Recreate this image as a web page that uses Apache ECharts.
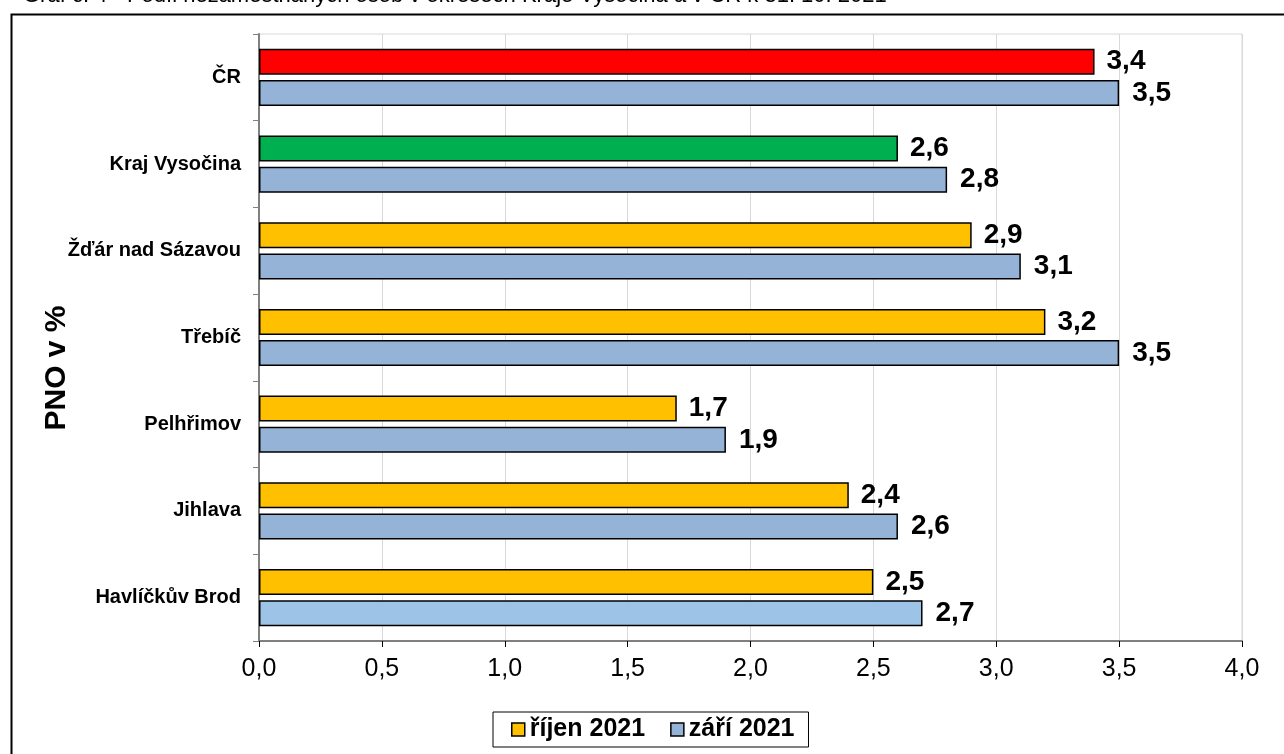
<!DOCTYPE html>
<html><head><meta charset="utf-8">
<script src="https://cdn.jsdelivr.net/npm/echarts@6/dist/echarts.min.js"></script>
<style>html,body{margin:0;padding:0;background:#fff}#c{width:1284px;height:754px}</style>
</head><body><div id="c"></div>
<script>
const categories = ['ČR', 'Kraj Vysočina', 'Žďár nad Sázavou', 'Třebíč', 'Pelhřimov', 'Jihlava', 'Havlíčkův Brod'];
const rijen2021 = [3.4, 2.6, 2.9, 3.2, 1.7, 2.4, 2.5];
const zari2021 = [3.5, 2.8, 3.1, 3.5, 1.9, 2.6, 2.7];
const rijenColors = ['#FF0000', '#00B050', '#FFC000', '#FFC000', '#FFC000', '#FFC000', '#FFC000'];
const zariColors = ['#95B3D7', '#95B3D7', '#95B3D7', '#95B3D7', '#95B3D7', '#95B3D7', '#9DC3E6'];
const xTicks = [0, 0.5, 1, 1.5, 2, 2.5, 3, 3.5, 4];
const yTitle = 'PNO v %';

const FONT = 'Liberation Sans, Arial, sans-serif';
const fmt = v => Number(v).toFixed(1).replace('.', ',');

const chart = echarts.init(document.getElementById('c'));
chart.setOption({
  backgroundColor: '#fff',
  animation: false,
  title: {
    text: 'Graf č. 4 - Podíl nezaměstnaných osob v okresech Kraje Vysočina a v ČR k 31. 10. 2021',
    left: 18, top: -20,
    textStyle: {fontFamily: FONT, fontSize: 22, fontWeight: 'normal', color: '#000'}
  },
  graphic: [{
    type: 'rect', left: 9, top: 12, silent: true,
    shape: {width: 1300, height: 800},
    style: {fill: 'none', stroke: '#000', lineWidth: 2}
  }, {
    type: 'text', x: 57, y: 368, rotation: Math.PI / 2, silent: true,
    style: {text: yTitle, fill: '#000', font: 'bold 30px ' + FONT, align: 'center', verticalAlign: 'middle'}
  }],
  grid: {left: 259, right: 42, top: 34, bottom: 113, show: true, borderColor: '#d9d9d9', borderWidth: 1},
  legend: {
    left: 493, top: 712,
    orient: 'horizontal',
    icon: 'rect',
    itemWidth: 13, itemHeight: 13, itemGap: 25,
    padding: [5, 14, 5, 18],
    borderColor: '#000', borderWidth: 1,
    textStyle: {fontFamily: FONT, fontSize: 25, fontWeight: 'bold', color: '#000'},
    itemStyle: {borderColor: '#000', borderWidth: 1.5},
    data: ['říjen 2021', 'září 2021']
  },
  xAxis: {
    type: 'value', min: 0, max: 4, interval: 0.5,
    axisLine: {show: true, lineStyle: {color: '#808080', width: 2}},
    axisTick: {show: true, length: 6, lineStyle: {color: '#000'}},
    splitLine: {show: true, lineStyle: {color: '#d9d9d9', width: 1}},
    axisLabel: {margin: 16, fontFamily: FONT, fontSize: 25, color: '#000', formatter: v => fmt(v)}
  },
  yAxis: {
    type: 'category', data: categories, inverse: true,
    axisLine: {show: true, lineStyle: {color: '#808080', width: 2}},
    axisTick: {show: true, length: 6, inside: false, lineStyle: {color: '#808080'}},
    axisLabel: {margin: 18, fontFamily: FONT, fontSize: 20, fontWeight: 'bold', color: '#000'},
    splitLine: {show: false}
  },
  series: [
    {
      name: 'říjen 2021', type: 'bar',
      barWidth: 26, barGap: '20%',
      itemStyle: {color: '#FFC000', borderColor: '#000', borderWidth: 1.5},
      data: rijen2021.map((v, i) => ({value: v, itemStyle: {color: rijenColors[i]}})),
      label: {show: true, position: 'right', distance: 12, fontFamily: FONT, fontSize: 28, fontWeight: 'bold', color: '#000', formatter: p => fmt(p.value)}
    },
    {
      name: 'září 2021', type: 'bar',
      barWidth: 26, barGap: '20%',
      itemStyle: {color: '#95B3D7', borderColor: '#000', borderWidth: 1.5},
      data: zari2021.map((v, i) => ({value: v, itemStyle: {color: zariColors[i]}})),
      label: {show: true, position: 'right', distance: 13, fontFamily: FONT, fontSize: 28, fontWeight: 'bold', color: '#000', formatter: p => fmt(p.value)}
    }
  ]
});
</script>
</body></html>
